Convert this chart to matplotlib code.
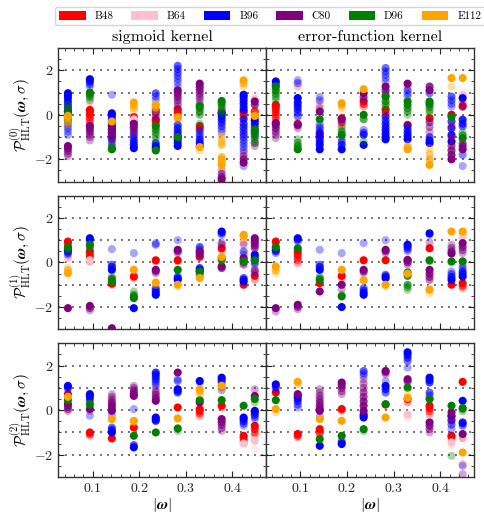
import numpy as np
import matplotlib
matplotlib.use("Agg")
import matplotlib.pyplot as plt
from matplotlib.patches import Patch
from matplotlib.ticker import MultipleLocator

plt.rcParams['font.family'] = 'serif'
plt.rcParams['font.serif'] = ['cmr10', 'DejaVu Serif']
plt.rcParams['mathtext.fontset'] = 'cm'
plt.rcParams['axes.formatter.use_mathtext'] = True

omega = [0.0471, 0.0942, 0.1414, 0.1885, 0.2356, 0.2827, 0.3299, 0.3770, 0.4241, 0.4480]
ensembles = ["B48", "B64", "B96", "C80", "D96", "E112"]
colors = {"B48": "red", "B64": "pink", "B96": "blue", "C80": "purple", "D96": "green", "E112": "orange"}
kernels = ["sigmoid kernel", "error-function kernel"]

sig0 = {
 "B48": [[0.3, 0.15], [-0.5, -0.38, -0.25, -0.12, 0.0, 0.12, 0.22], [-1.1, -0.95, -0.8, -0.65], [-0.5, -0.38, -0.25, -0.1],
         [-0.5, -0.4, -0.3, -0.22], [-0.15, -0.05, 0.05, 0.15, 0.25], [-0.7, -0.6, -0.5], [0.2, 0.1], [-0.15, -0.05, 0.05, 0.15], [-0.3, -0.15, 0.0, 0.15]],
 "B64": [[0.0], [0.6], [], [-0.2], [], [], [], [], [-0.5, -0.9], [0.85, 0.7]],
 "B96": [[-0.9, -0.75, -0.6, -0.45, -0.3, -0.15, 0.0, 0.15, 0.3, 0.45, 0.6, 0.75, 0.87, 0.97], [1.27, 1.38, 1.5, 1.6],
         [0.9, -1.4, -1.25, -1.1, -0.95, -0.8, -0.65, -0.5, -0.35, -0.2, -0.05, 0.07], [-0.6, -0.75, -0.9, -1.05, -1.2, -1.35, -1.5],
         [0.67, 0.82, 0.97, -1.27, -1.4, -1.5], [1.27, 1.45, 1.6, 1.75, 1.9, 2.05, 2.2, -0.45, -0.6, -0.75, -0.9, -1.0, -1.1, -1.25, -1.4],
         [-0.67, -0.8, -0.95, -1.1, -1.25, -1.4], [-0.8, -0.65, -0.5, -0.35, -0.2, -0.05, 0.07],
         [-2.3, -1.6, -1.45, -1.3, -1.15, -1.0, -0.85, -0.7, -0.55, -0.4, -0.2, 0.22, 0.35, 0.5, 0.65, 0.8, 0.9], [-1.0, -0.85, -0.7, -0.55, -0.4, -0.25]],
 "C80": [[-1.85, -1.75, -1.62, -1.5, -1.4], [-1.15, -1.0, -0.88, -0.75, -0.62, -0.5], [-1.1, -0.95, -0.8, -0.65, -0.5], [-0.85, -0.7, -0.55, -0.4],
         [-0.2, -0.05, 0.1, 0.2], [0.37, 0.5, 0.65, 0.8, 0.95, 1.1], [0.5, 0.65, 0.8, 0.95, 1.1, 1.25, 1.4], [-2.5, -2.65, -2.8, -2.9],
         [-1.7, -1.85, -2.0, -2.15], [-1.4, -1.25, 0.45, 0.6]],
 "D96": [[0.45, 0.3, 0.15, 0.0, -0.1, -0.22], [0.67, 0.8, 0.9, 1.0], [-1.4, -1.5, -1.55], [], [-1.1, -0.95, -0.8, -0.65, -0.5, -1.6], [-1.0],
         [-0.4, 0.0, 0.15, 0.3, 0.4], [0.07, 0.2, 0.35, 0.5, 0.62], [], [-1.27, -1.1, -0.95, -0.8, -0.67]],
 "E112": [[-0.45, -0.3, -0.15, -0.05], [], [-0.3], [0.2, 0.3, 0.42, 0.55], [0.2, 0.32, 0.45], [-0.2, -0.1], [-1.6, -1.45],
          [-0.9, -1.05, -1.2, -1.35, -1.9, -2.0, -2.1, -2.25], [1.27, 1.4, 1.55], [0.1, -0.05]],
}

sig1 = {
 "B48": [[0.8, 0.87, 0.94], [0.05, 0.15, 0.25, 0.35, 0.5], [-1.0, -0.95], [-0.7, -0.63], [0.05, 0.1], [0.05, 0.1], [0.2, 0.27], [0.57, 0.64], [-1.0], [-0.78, -0.6]],
 "B64": [[0.2], [0.1], [], [], [], [], [], [], [1.2, 0.9], [0.8]],
 "B96": [[0.35, 0.42, 0.5, 0.57], [0.94, 1.02, 1.09], [0.6, -0.1, -0.2, -0.33], [0.42, -2.05], [0.87, 0.8, -1.15, -1.25, -1.35, -1.45],
         [1.0, -0.63, -0.7, -0.78], [0.5, 0.6, 0.7, -0.25, -0.33, -0.4], [1.24, 1.32, 1.39], [0.35, 0.5, -0.7, -0.78, -0.85], [-0.1, 0.0, 0.12, 0.23, 0.35]],
 "C80": [[-2.05], [-2.15, -2.05, -1.95], [-0.85, -0.75, -2.95], [], [-0.48, -0.4, -0.33], [0.42, 0.5, 0.57], [0.27, 0.35, 0.42, 0.5],
         [0.9, 0.8, -0.25, -0.18], [0.8, -0.1, 0.0, 0.1, 0.2], [-0.48, -0.4, -0.33, 0.64, 0.75, 0.87, 0.98, 1.09]],
 "D96": [[0.57, 0.64, 0.7], [0.64, 0.72, 0.8], [-0.63, -0.72, -0.85], [-1.3, -1.45, -1.52, -1.6], [], [-0.33], [-0.63, -0.52, -0.4], [0.05, 0.12, 0.2], [0.05], [0.1]],
 "E112": [[-0.25, -0.35, -0.48], [], [], [-0.33], [-1.0, -0.9], [-1.07, -1.0], [-0.7], [0.25], [1.09, 1.17, 1.24], []],
}

sig2 = {
 "B48": [[0.72], [-1.15, -1.07, -1.0], [-1.27], [-0.78], [], [0.12], [-0.25, -0.15, -0.05, 0.05], [0.12, 0.2], [-1.45, -1.35, -1.25, -1.15], [-1.15, -1.0, -0.85, -0.7]],
 "B64": [[], [], [0.3], [], [], [], [], [], [-1.5], [-1.75, -1.37]],
 "B96": [[0.94, 1.02, 1.09], [-0.25, 0.42, 0.52, 0.62, 0.72], [-0.22, -0.78, -0.88, -1.0], [0.05, -1.57, -1.67],
         [1.09, 1.2, 1.3, 1.4, 1.5, 1.6, 1.69, -0.48, -0.4, -0.33], [1.39, 1.31, 0.79, 0.87, 0.94], [1.24, 1.31], [0.9, 1.05, 1.24, 1.35, 1.46],
         [-0.7, -0.6, -0.5, -0.4, -0.33], [-0.4, -0.3, -0.2, -0.1, -0.03]],
 "C80": [[-0.03, 0.05, 0.15, 0.27], [-0.03, 0.05], [0.72, 0.6, 0.48, 0.36, 0.24, 0.12, -0.03], [1.09, 1.0, 0.9, 0.8, 0.7, 0.64],
         [0.94, 0.82, 0.7, 0.55, 0.42], [1.69], [0.35], [-0.93, -0.8, -0.66, -0.53, -0.4], [], [0.94, 0.64]],
 "D96": [[0.45], [0.2, 0.27], [], [-1.15], [-1.0], [-0.93, -0.82], [0.45], [0.45], [0.2], [0.35, 0.5]],
 "E112": [[0.6], [], [-0.4], [-0.55, -0.48], [], [-0.37], [0.72, 0.83, 0.94], [0.94, 1.1], [], []],
}

erf0 = {
 "B48": [[-0.37, -0.25, -0.12, 0.0, 0.12, 0.25, 0.37, 0.45], [-0.5, -0.4], [-0.95, -0.85], [-0.5, -0.35, -0.15], [0.37, 0.48, 0.6],
         [-0.07, 0.07, 0.22], [-0.45], [-0.15], [0.0], [0.4]],
 "B64": [[], [1.4, 1.27], [0.6, 0.45], [], [], [], [], [], [], [0.9]],
 "B96": [[1.27, 1.38, 1.5], [1.55, 1.42, -0.07, 0.1, 0.25, 0.4, 0.55, 0.75], [0.8, 0.65, -0.45, -0.6, -0.75, -0.9, -1.05, -1.2, -1.35, -1.55],
         [-1.05, -1.2, -1.35, -1.55], [-0.67, -0.8, -0.9, -1.35], [1.5, 1.65, 1.8, 1.95, 2.1, -0.07, -0.25, -0.4, -0.55, -0.7, -0.85, -1.0, -1.1],
         [0.82, 0.95, 1.1, -0.5, -0.65, -0.8, -0.95, -1.1], [0.45, 0.97, -1.0, -1.15, -1.27], [0.37, 0.5, 0.65, 0.82, -0.3, -0.6, -0.9, -1.2],
         [-2.3, -1.8, -0.52, -0.4, -0.22, 0.75]],
 "C80": [[-1.05, -0.9, -0.75, -0.6, -0.45, -0.37], [-0.6, -0.45], [0.3, 0.15], [-0.3, -0.2], [0.67, 0.8, 0.97], [0.82, 0.95, 1.1, 1.27],
         [1.27, 1.4], [-0.78, -0.55, -0.33, 1.27, 1.1], [0.0, -0.5, -1.0, -1.4, -1.6, -1.8, -2.0], [0.55, 0.35, -1.27, -1.4, -1.55]],
 "D96": [[0.67, 0.8, 0.95, 1.1, 1.27], [-1.1, -1.25, -1.4, -1.55], [-0.2], [-0.6, -0.75, -0.9], [-1.2, -0.2, 0.0], [0.3, 0.45, 0.6, 0.82],
         [0.0, 0.15, 0.3, 0.45, 0.6], [0.07, 0.2, 0.35, 0.5, 0.6], [-0.1], [-0.8, -0.92, -1.05]],
 "E112": [[], [], [], [0.3, 0.42, 0.52], [1.15], [], [-1.35, -1.45, -1.55], [-1.5, -1.75, -2.0, -2.25], [1.27, 1.65], [1.65]],
}

erf1 = {
 "B48": [[0.87, 0.94], [-0.03, 0.1, 0.22, 0.35, 0.5], [-0.93], [-0.7, -0.6], [0.1], [0.1], [0.05, 0.12], [0.64], [-1.0], [-1.15, -1.05, -0.93]],
 "B64": [[], [], [], [], [], [], [], [-1.2], [], [1.39, 1.27, 1.16]],
 "B96": [[0.42, 0.5, 0.57], [0.94, 1.02, 1.09], [0.57, -0.1, -0.2, -0.33], [0.42, -2.0], [0.87, -1.15, -1.25, -1.35, -1.45],
         [1.0, -0.55, -0.62, -0.7], [0.5, 0.6, 0.7, 0.8], [1.24, 1.31], [-0.4, -0.52, -0.65, -0.78], [-0.1, -0.25, -0.4, -0.5, -0.63]],
 "C80": [[-2.2, -2.05], [-2.1, -2.0, -1.9], [-1.3], [-1.2, -1.0], [-0.48, -0.4, -0.33], [0.42, 0.5, 0.57], [-0.1, 0.0, 0.1],
         [0.9, -0.78, -0.65, -0.5, -0.33], [0.8, 0.65, 0.5, 0.4], [0.42, 0.55, 0.7, 0.87]],
 "D96": [[0.64, 0.7], [0.64], [-0.63, -0.72, -0.78], [-1.45, -1.52], [], [], [-1.22, -1.1, -1.0, -0.6, -0.45], [0.05, 0.1], [0.0, 0.05], [0.05]],
 "E112": [[-0.48, -0.35, -0.18], [], [], [-0.33], [-0.8], [-1.07, -1.0], [-0.5], [-1.37, -1.22], [1.39], [1.39]],
}

erf2 = {
 "B48": [[0.79], [-1.22, -1.15, -1.07], [-1.15, -1.0, -0.85], [-0.03, 0.05], [], [0.25], [0.35, 0.5], [-0.18, -0.05, 0.08, 0.2], [-1.3, -1.2, -1.15], [-1.25, 1.27]],
 "B64": [[], [], [], [], [], [], [-0.33, -0.2], [], [-1.6, -1.45], [-2.42]],
 "B96": [[0.94, 1.05, 1.16], [0.12, 0.25, 0.4, 0.52, 0.64], [-0.3, -1.6], [-1.37, -1.45, -1.52], [1.54, 1.65, 1.76, -0.18, -0.25, -0.33],
         [1.3, 0.79, 0.94, 1.09], [1.91, 2.21, 2.35, 2.48, 2.6], [0.5, 0.65, 0.79, 1.24, 1.35, 1.46], [-0.85, -0.65, -0.45, -0.25],
         [-2.5, -0.7, -0.6, -0.55, 0.42]],
 "C80": [[], [0.72], [0.94, 0.8, 0.65, 0.5, 0.35, 0.2, 0.05, -0.03], [0.72, 0.85, 1.0, 1.12, 1.24], [1.39, 1.2, 1.0, 0.8, 0.6, 0.4, 0.2, -0.03],
         [1.61, 1.7, 1.76], [1.24, 1.32, 1.39], [-1.0, -0.85, -0.7, -0.55], [-0.5, -0.3, -0.1], [-2.87, -1.07]],
 "D96": [[0.45], [], [-1.3], [-1.15], [-0.93, -0.85], [0.27], [1.01], [0.5], [-2.05, 0.2], [-0.05, 0.05, 0.1]],
 "E112": [[-0.1, 0.05], [1.16, 1.27], [-0.4], [-0.48], [], [-0.33], [0.72, 0.55], [], [], [-1.9]],
}

panels = [[sig0, erf0], [sig1, erf1], [sig2, erf2]]

fig, axes = plt.subplots(3, 2, figsize=(4.84, 5.16), dpi=100, sharex=True, sharey=True)
fig.subplots_adjust(left=0.12, right=0.979, bottom=0.0756, top=0.907, wspace=0.0, hspace=0.105)

for r in range(3):
    for c in range(2):
        ax = axes[r, c]
        data = panels[r][c]
        for yv in [-2, -1, 0, 1, 2]:
            ax.axhline(yv, color='0.45', lw=1.4, ls=(0, (1, 2.6)), zorder=0.5)
        for ens in ensembles:
            for xi, vals in zip(omega, data[ens]):
                if not vals:
                    continue
                n = len(vals)
                alphas = np.linspace(0.35, 1.0, n) if n > 1 else np.array([1.0])
                ax.scatter([xi] * n, vals, s=34, color=colors[ens], alpha=alphas,
                           edgecolors='none', zorder=2)
        ax.set_xlim(0.026, 0.472)
        ax.set_ylim(-3, 3)
        ax.xaxis.set_major_locator(MultipleLocator(0.1))
        ax.xaxis.set_minor_locator(MultipleLocator(0.02))
        ax.yaxis.set_major_locator(MultipleLocator(2))
        ax.yaxis.set_minor_locator(MultipleLocator(0.5))
        ax.tick_params(which='both', direction='in', top=True, right=True, labelsize=10, colors='#222222')
        ax.tick_params(which='major', length=4, width=0.8)
        ax.tick_params(which='minor', length=2, width=0.6)
        for sp in ax.spines.values():
            sp.set_color('#333333')
            sp.set_linewidth(1.0)
        if c == 0:
            ax.set_ylabel(r'$\mathcal{P}^{(%d)}_{\rm HLT}(\boldsymbol{\omega},\sigma)$' % r, fontsize=11, labelpad=0.5)
        if r == 0:
            ax.set_title(kernels[c], fontsize=11.5, pad=5)
        if r == 2:
            ax.set_xlabel(r'$|\boldsymbol{\omega}|$', fontsize=11, labelpad=1)

handles = [Patch(facecolor=colors[e], edgecolor='none', label=e) for e in ensembles]
fig.legend(handles=handles, ncol=6, loc='upper center', bbox_to_anchor=(0.558, 0.997),
           fontsize=8, handlelength=2.4, handleheight=0.9, columnspacing=1.6, handletextpad=0.8,
           frameon=True, edgecolor='#cccccc', fancybox=True, borderpad=0.35)

fig.savefig('out.png', dpi=100)
